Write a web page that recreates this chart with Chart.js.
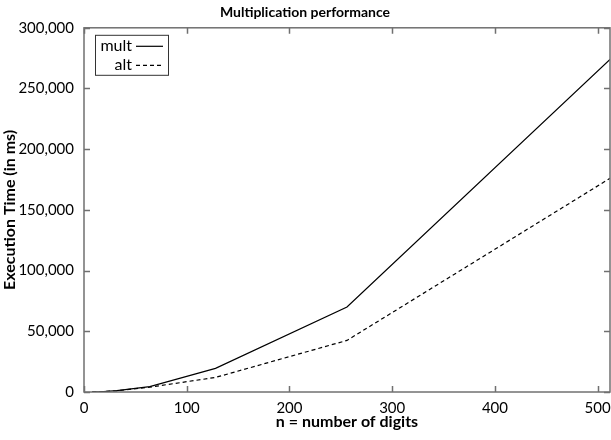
<!DOCTYPE html>
<html>
<head>
<meta charset="utf-8">
<script src="https://cdn.jsdelivr.net/npm/chart.js@4"></script>
<style>
  html, body { margin: 0; padding: 0; background: #fff; }
  #wrap { width: 611px; height: 440px; }
</style>
</head>
<body>
<div id="wrap"><canvas id="perfChart"></canvas></div>
<script>
// number of digits
const digits = [8, 16, 32, 64, 128, 256, 512];
// execution time (ms)
const multTimes = [30, 200, 1100, 4500, 19500, 70000, 274000];
const altTimes = [30, 200, 1000, 4000, 12000, 42500, 176000];
const xTicks = [0, 100, 200, 300, 400, 500];
const yTicks = [0, 50000, 100000, 150000, 200000, 250000, 300000];

const FONT = 'Lato, "Open Sans", sans-serif';
const AXIS_GREY = '#707070';

// frame round the plot area with inward ticks on all four sides
const frameTicks = {
    id: 'frameTicks',
    afterDraw(chart) {
        const { ctx, chartArea: a, scales: { x, y } } = chart;
        ctx.save();
        ctx.strokeStyle = AXIS_GREY;
        ctx.lineWidth = 1.5;
        ctx.strokeRect(a.left, a.top, a.right - a.left, a.bottom - a.top);
        ctx.beginPath();
        x.ticks.forEach(t => {
            const px = Math.round(x.getPixelForValue(t.value)) + 0.5;
            ctx.moveTo(px, a.bottom); ctx.lineTo(px, a.bottom - 6);
            ctx.moveTo(px, a.top); ctx.lineTo(px, a.top + 6);
        });
        y.ticks.forEach(t => {
            const py = Math.round(y.getPixelForValue(t.value)) + 0.5;
            ctx.moveTo(a.left, py); ctx.lineTo(a.left + 6, py);
            ctx.moveTo(a.right, py); ctx.lineTo(a.right - 6, py);
        });
        ctx.stroke();
        ctx.restore();
    }
};

// gnuplot-style key: label first, then the line sample
const keyBox = {
    id: 'keyBox',
    afterDraw(chart) {
        const { ctx, chartArea: a } = chart;
        const left = a.left + 11, top = a.top + 7;
        const w = 73, h = 40;
        ctx.save();
        ctx.strokeStyle = '#333';
        ctx.lineWidth = 1;
        ctx.strokeRect(left + 0.5, top + 0.5, w, h);
        ctx.font = '16px ' + FONT;
        ctx.fillStyle = '#000';
        ctx.textAlign = 'right';
        ctx.textBaseline = 'middle';
        chart.data.datasets.forEach((ds, i) => {
            const cy = top + 11 + i * 19;
            ctx.fillText(ds.label, left + 37, cy);
            ctx.beginPath();
            ctx.setLineDash(ds.borderDash || []);
            ctx.lineWidth = ds.borderWidth;
            ctx.strokeStyle = ds.borderColor;
            ctx.moveTo(left + 41, cy + 0.5);
            ctx.lineTo(left + 68, cy + 0.5);
            ctx.stroke();
        });
        ctx.restore();
    }
};

const chartData = {
    datasets: [
        {
            label: 'mult',
            data: digits.map((n, i) => ({ x: n, y: multTimes[i] })),
            borderColor: '#000',
            borderWidth: 1.2,
            pointRadius: 0,
            tension: 0
        },
        {
            label: 'alt',
            data: digits.map((n, i) => ({ x: n, y: altTimes[i] })),
            borderColor: '#000',
            borderWidth: 1.2,
            borderDash: [4, 3],
            pointRadius: 0,
            tension: 0
        }
    ]
};

const config = {
    type: 'line',
    data: chartData,
    options: {
        responsive: true,
        maintainAspectRatio: false,
        animation: false,
        locale: 'en-US',
        layout: { autoPadding: false, padding: { left: 0, right: 1, top: 0, bottom: 0 } },
        plugins: {
            legend: { display: false },
            tooltip: { enabled: false },
            title: {
                display: true,
                text: 'Multiplication performance',
                color: '#000',
                font: { family: FONT, size: 14, weight: 'bold' },
                padding: { top: 4, bottom: 7 }
            }
        },
        scales: {
            x: {
                type: 'linear',
                min: 0,
                max: 512,
                afterBuildTicks: s => { s.ticks = xTicks.map(v => ({ value: v })); },
                afterFit: s => { s.height = 48; s.paddingLeft = 0; s.paddingRight = 0; },
                grid: { display: false, drawTicks: false },
                border: { display: false },
                ticks: { color: '#000', padding: 7, font: { family: FONT, size: 15 } },
                title: {
                    display: true,
                    text: 'n = number of digits',
                    color: '#000',
                    font: { family: FONT, size: 16, weight: 'bold' },
                    padding: { top: 0, bottom: 9 }
                }
            },
            y: {
                min: 0,
                max: 300000,
                afterBuildTicks: s => { s.ticks = yTicks.map(v => ({ value: v })); },
                afterFit: s => { s.width = 84; s.paddingTop = 0; s.paddingBottom = 0; },
                grid: { display: false, drawTicks: false },
                border: { display: false },
                ticks: { color: '#000', padding: 10, font: { family: FONT, size: 15 } },
                title: {
                    display: true,
                    text: 'Execution Time (in ms)',
                    color: '#000',
                    font: { family: FONT, size: 16, weight: 'bold' },
                    padding: { top: 0, bottom: 0 }
                }
            }
        }
    },
    plugins: [frameTicks, keyBox]
};

const perfChart = new Chart(document.getElementById('perfChart'), config);
</script>
</body>
</html>
